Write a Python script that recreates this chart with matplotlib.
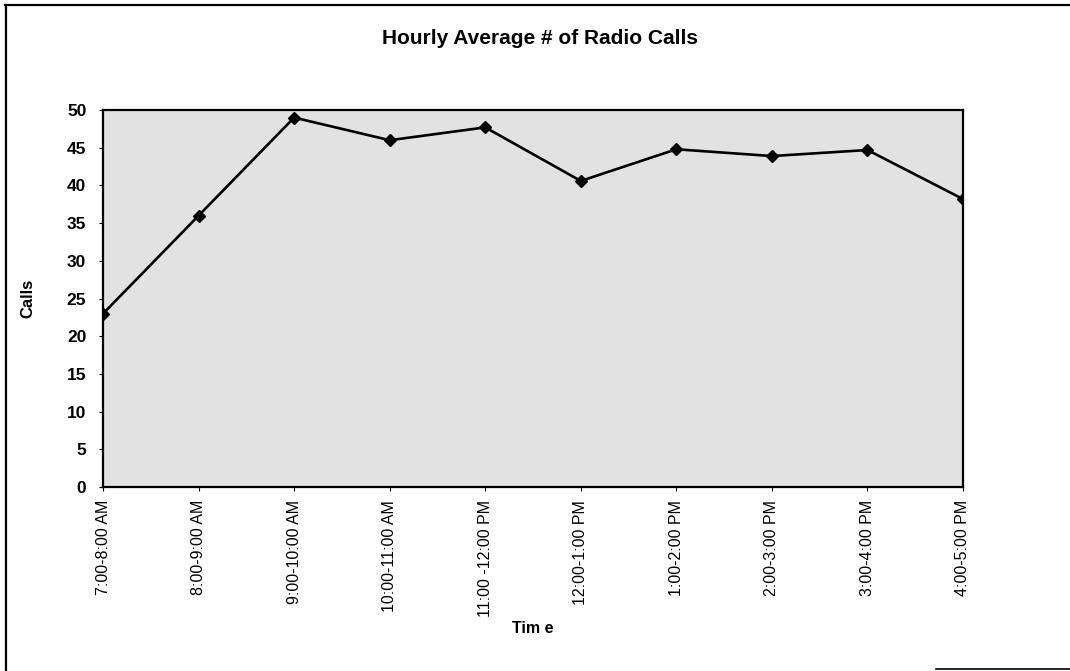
import matplotlib.pyplot as plt
from matplotlib.lines import Line2D

plt.rcParams["font.family"] = ["Liberation Sans", "DejaVu Sans"]

TIME_SLOTS = [
    "7:00-8:00 AM",
    "8:00-9:00 AM",
    "9:00-10:00 AM",
    "10:00-11:00 AM",
    "11:00 -12:00 PM",
    "12:00-1:00 PM",
    "1:00-2:00 PM",
    "2:00-3:00 PM",
    "3:00-4:00 PM",
    "4:00-5:00 PM",
]
AVG_CALLS = [23, 36, 49, 46, 47.7, 40.6, 44.8, 43.9, 44.7, 38.2]
Y_TICKS = [0, 5, 10, 15, 20, 25, 30, 35, 40, 45, 50]


def make_chart():
    fig = plt.figure(figsize=(10.7, 6.71), dpi=100)
    ax = fig.add_axes([0.0963, 0.274, 0.8037, 0.562])

    positions = list(range(len(TIME_SLOTS)))
    ax.set_facecolor("#e2e2e2")
    ax.plot(positions, AVG_CALLS, color="black", linewidth=1.9,
            marker="D", markersize=6.5, markerfacecolor="black",
            markeredgecolor="black")

    ax.set_xlim(0, len(TIME_SLOTS) - 1)
    ax.set_ylim(0, 50)
    ax.set_yticks(Y_TICKS)
    ax.set_yticklabels([str(v) for v in Y_TICKS], fontsize=12.5, fontweight="bold")
    ax.set_xticks(positions)
    ax.set_xticklabels(TIME_SLOTS, rotation=90, fontsize=11.5, va="top", ha="center")
    ax.tick_params(axis="both", direction="out", length=3, width=0.8)
    ax.tick_params(axis="y", pad=9)
    ax.tick_params(axis="x", pad=6)

    for spine in ax.spines.values():
        spine.set_linewidth(1.6)
        spine.set_color("black")

    fig.text(0.505, 0.943, "Hourly Average # of Radio Calls", ha="center",
             va="center", fontsize=15, fontweight="bold")
    fig.text(0.026, 0.556, "Calls", rotation=90, ha="center", va="center",
             fontsize=12, fontweight="bold")
    fig.text(0.498, 0.063, "Tim e", ha="center", va="center",
             fontsize=11.5, fontweight="bold")

    # outer frame of the scanned page
    fig.add_artist(Line2D([0.005, 1.0], [0.992, 0.992], color="black", linewidth=1.6))
    fig.add_artist(Line2D([0.006, 0.006], [0.0, 0.992], color="black", linewidth=1.6))
    fig.add_artist(Line2D([0.875, 1.0], [0.003, 0.003], color="black", linewidth=1.2))

    fig.savefig("out.png", dpi=100)
    plt.close(fig)


if __name__ == "__main__":
    make_chart()
